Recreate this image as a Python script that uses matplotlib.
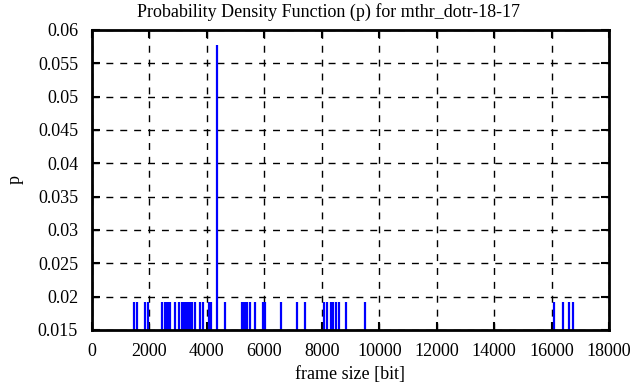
import matplotlib
matplotlib.use("Agg")
import matplotlib.pyplot as plt
from matplotlib.ticker import MultipleLocator

plt.rcParams['font.family'] = ['Liberation Serif', 'DejaVu Serif']

# frame sizes (bit) and their probabilities
frame_sizes = [1450, 1560, 1850, 1960, 2430, 2540, 2600, 2670, 2720, 2900, 3030,
               3140, 3180, 3230, 3270, 3320, 3360, 3410, 3450, 3490,
               3590, 3770, 3860, 4090, 4140, 4340, 4630,
               5210, 5260, 5320, 5410, 5490, 5670, 5940, 6010,
               6590, 7120, 7430, 8090, 8180, 8310, 8400, 8490, 8590,
               8850, 9500, 16080, 16390, 16620, 16740]
probs = [1/52] * len(frame_sizes)
probs[frame_sizes.index(4340)] = 3/52

yticks = [0.015, 0.02, 0.025, 0.03, 0.035, 0.04, 0.045, 0.05, 0.055, 0.06]
ytick_labels = ["0.015", "0.02", "0.025", "0.03", "0.035", "0.04", "0.045", "0.05", "0.055", "0.06"]

title = "Probability Density Function (p) for mthr_dotr-18-17"
xlabel = "frame size [bit]"
ylabel = "p"

fig = plt.figure(figsize=(6.36, 3.87), dpi=100)
ax = fig.add_axes([92/636, 1-330/387, 517/636, 300/387])

ax.vlines(frame_sizes, 0, probs, colors='#0000ff', linewidth=1.6)

ax.set_xlim(0, 18000)
ax.set_ylim(0.015, 0.06)
ax.xaxis.set_major_locator(MultipleLocator(2000))
ax.set_yticks(yticks)
ax.set_yticklabels(ytick_labels)

ax.grid(True, color='black', linestyle=(0, (5, 5)), linewidth=1)
ax.set_axisbelow(True)
for s in ax.spines.values():
    s.set_linewidth(2)
ax.tick_params(direction='in', length=6, width=1.5, top=True, right=True, labelsize=13)
ax.tick_params(axis='y', pad=10)
ax.tick_params(axis='x', pad=9)

fig.text(328.5/636, 1-12/387, title, fontsize=13, ha='center', va='center')
fig.text(350/636, 1-375/387, xlabel, fontsize=13, ha='center', va='center')
fig.text(15/636, 1-180/387, ylabel, fontsize=13, rotation=90, ha='center', va='center')

fig.savefig("out.png", dpi=100)
